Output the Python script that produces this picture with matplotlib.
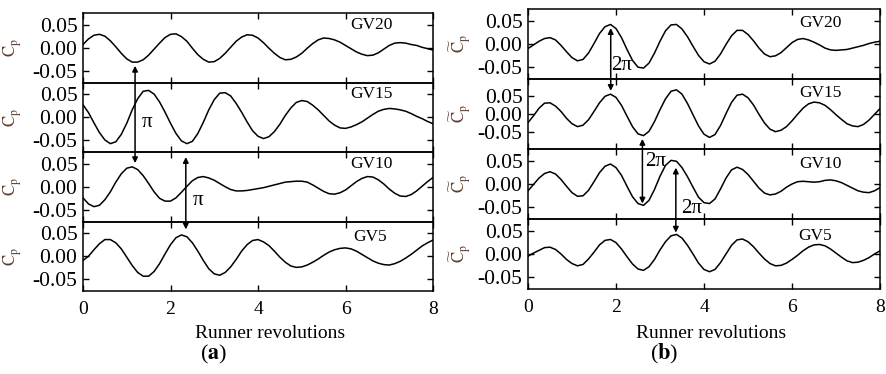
import numpy as np
import matplotlib
matplotlib.use('Agg')
import matplotlib.pyplot as plt
from matplotlib.patches import ConnectionPatch

plt.rcParams['font.family'] = ['Liberation Serif', 'DejaVu Serif']
plt.rcParams['mathtext.fontset'] = 'stix'
plt.rcParams['axes.unicode_minus'] = False

# runner revolutions, sampled every 1/8 revolution
revs = np.linspace(0, 8, 65)

# panel (a): pressure coefficient fluctuation at each guide-vane probe
cp_a_gv20 = [0.007, 0.019, 0.027, 0.029, 0.025, 0.015, 0.002, -0.012, -0.024, -0.031, -0.031, -0.026, -0.016,
             -0.003, 0.010, 0.022, 0.029, 0.030, 0.024, 0.014, -0.001, -0.015, -0.025, -0.031, -0.030, -0.023,
             -0.012, 0.001, 0.014, 0.023, 0.028, 0.027, 0.021, 0.011, -0.001, -0.012, -0.021, -0.026, -0.025,
             -0.020, -0.012, -0.001, 0.009, 0.017, 0.021, 0.020, 0.017, 0.012, 0.005, -0.002, -0.009, -0.014,
             -0.017, -0.016, -0.011, -0.003, 0.005, 0.010, 0.011, 0.010, 0.007, 0.005, 0.001, -0.002, -0.005]
cp_a_gv15 = [0.027, 0.010, -0.012, -0.033, -0.049, -0.057, -0.053, -0.037, -0.013, 0.016, 0.040, 0.056, 0.058,
             0.050, 0.033, 0.011, -0.013, -0.035, -0.051, -0.057, -0.052, -0.035, -0.011, 0.016, 0.038, 0.052,
             0.053, 0.046, 0.030, 0.011, -0.010, -0.029, -0.041, -0.046, -0.042, -0.031, -0.015, 0.004, 0.020,
             0.032, 0.036, 0.034, 0.026, 0.016, 0.004, -0.008, -0.017, -0.023, -0.024, -0.021, -0.016, -0.010,
             -0.002, 0.006, 0.013, 0.017, 0.019, 0.018, 0.016, 0.013, 0.008, 0.002, -0.003, -0.009, -0.014]
cp_a_gv10 = [-0.024, -0.037, -0.043, -0.040, -0.028, -0.011, 0.010, 0.028, 0.040, 0.043, 0.037, 0.024, 0.007,
             -0.011, -0.025, -0.031, -0.031, -0.024, -0.012, 0.001, 0.013, 0.020, 0.022, 0.019, 0.014, 0.007,
             0.000, -0.006, -0.009, -0.009, -0.008, -0.006, -0.004, -0.002, 0.001, 0.004, 0.007, 0.010, 0.011,
             0.012, 0.012, 0.010, 0.004, -0.003, -0.010, -0.015, -0.016, -0.013, -0.007, 0.002, 0.011, 0.018,
             0.022, 0.021, 0.015, 0.006, -0.005, -0.014, -0.020, -0.021, -0.017, -0.009, 0.001, 0.011, 0.020]
cp_a_gv5 = [-0.009, 0.000, 0.014, 0.027, 0.036, 0.036, 0.029, 0.016, -0.002, -0.020, -0.035, -0.043, -0.043,
            -0.033, -0.016, 0.005, 0.025, 0.040, 0.046, 0.042, 0.029, 0.011, -0.009, -0.027, -0.038, -0.041,
            -0.035, -0.023, -0.007, 0.011, 0.025, 0.034, 0.036, 0.031, 0.023, 0.011, -0.002, -0.013, -0.021,
            -0.024, -0.023, -0.019, -0.013, -0.006, 0.002, 0.009, 0.014, 0.017, 0.018, 0.016, 0.011, 0.004,
            -0.003, -0.010, -0.015, -0.018, -0.019, -0.016, -0.011, -0.004, 0.004, 0.013, 0.022, 0.029, 0.035]

# panel (b)
cp_b_gv20 = [-0.010, -0.002, 0.006, 0.012, 0.014, 0.009, -0.003, -0.017, -0.030, -0.037, -0.034, -0.020, 0.001,
             0.023, 0.038, 0.043, 0.034, 0.014, -0.012, -0.036, -0.051, -0.053, -0.042, -0.020, 0.006, 0.029,
             0.042, 0.043, 0.033, 0.016, -0.005, -0.025, -0.039, -0.044, -0.038, -0.022, -0.001, 0.018, 0.030,
             0.030, 0.021, 0.007, -0.009, -0.022, -0.028, -0.026, -0.019, -0.008, 0.003, 0.010, 0.012, 0.009,
             0.004, -0.002, -0.009, -0.013, -0.014, -0.013, -0.012, -0.009, -0.006, -0.003, 0.001, 0.004, 0.006]
cp_b_gv15 = [-0.024, -0.005, 0.016, 0.030, 0.031, 0.022, 0.007, -0.012, -0.027, -0.035, -0.031, -0.016, 0.007,
             0.031, 0.049, 0.055, 0.046, 0.024, -0.006, -0.035, -0.055, -0.060, -0.048, -0.021, 0.012, 0.042,
             0.063, 0.067, 0.055, 0.029, -0.002, -0.033, -0.056, -0.065, -0.057, -0.032, 0.001, 0.032, 0.052,
             0.055, 0.045, 0.025, -0.001, -0.025, -0.042, -0.049, -0.045, -0.035, -0.019, -0.001, 0.016, 0.028,
             0.033, 0.031, 0.024, 0.012, -0.002, -0.015, -0.027, -0.033, -0.035, -0.029, -0.017, -0.001, 0.015]
cp_b_gv10 = [-0.015, -0.001, 0.013, 0.023, 0.027, 0.022, 0.010, -0.005, -0.019, -0.027, -0.026, -0.014, 0.005,
             0.025, 0.039, 0.044, 0.036, 0.019, -0.005, -0.028, -0.043, -0.047, -0.036, -0.012, 0.017, 0.041,
             0.052, 0.050, 0.036, 0.016, -0.007, -0.029, -0.041, -0.043, -0.033, -0.011, 0.013, 0.031, 0.037,
             0.032, 0.021, 0.006, -0.009, -0.020, -0.024, -0.022, -0.016, -0.007, 0.000, 0.005, 0.006, 0.005,
             0.004, 0.005, 0.008, 0.009, 0.007, 0.003, -0.003, -0.009, -0.015, -0.018, -0.019, -0.015, -0.008]
cp_b_gv5 = [-0.005, 0.002, 0.008, 0.014, 0.015, 0.010, 0.000, -0.012, -0.021, -0.026, -0.023, -0.011, 0.004,
            0.020, 0.030, 0.032, 0.025, 0.011, -0.006, -0.022, -0.033, -0.036, -0.028, -0.012, 0.009, 0.027,
            0.040, 0.043, 0.035, 0.019, 0.000, -0.020, -0.034, -0.039, -0.034, -0.019, 0.000, 0.019, 0.031,
            0.033, 0.027, 0.016, 0.002, -0.011, -0.021, -0.026, -0.025, -0.020, -0.012, -0.003, 0.007, 0.015,
            0.020, 0.021, 0.018, 0.011, 0.002, -0.007, -0.015, -0.019, -0.018, -0.014, -0.008, 0.000, 0.007]

probe_names = ['GV20', 'GV15', 'GV10', 'GV5']
series_a = [cp_a_gv20, cp_a_gv15, cp_a_gv10, cp_a_gv5]
series_b = [cp_b_gv20, cp_b_gv15, cp_b_gv10, cp_b_gv5]
ylims_a = [0.075, 0.075, 0.075, 0.075]
ylims_b = [0.077, 0.097, 0.077, 0.077]
ytick_vals = [0.05, 0.0, -0.05]
ytick_labels = ['0.05', '0.00', '-0.05']
xtick_vals = [0, 2, 4, 6, 8]

# probe label positions (revolution, Cp) inside each strip
label_pos_a = [(6.6, 0.050), (6.6, 0.050), (6.6, 0.050), (6.55, 0.041)]
label_pos_b = [(6.64, 0.046), (6.64, 0.058), (6.64, 0.045), (6.52, 0.040)]

# phase-shift arrows: (revolution, upper strip, Cp at upper tip, lower strip, Cp at lower tip)
arrows_a = [(1.19, 0, -0.039, 2, 0.051), (2.35, 2, 0.064, 3, 0.058)]
arrows_b = [(1.88, 0, 0.035, 1, 0.064), (2.60, 1, -0.069, 2, -0.043), (3.36, 2, 0.036, 3, 0.047)]
# phase labels: (strip, revolution, Cp, text)
phase_a = [(1, 1.46, -0.011, 'π'), (2, 2.63, -0.029, 'π')]
phase_b = [(0, 2.13, -0.048, '2π'), (2, 2.89, 0.050, '2π'), (2, 3.72, -0.053, '2π')]

W, H = 886, 374
fig = plt.figure(figsize=(W / 100, H / 100), dpi=100)


def make_panel(left, right, top, bottom, series, ylims, label_pos, arrows, phases,
               tag, tag_x, xlabel_x, ylabel_x):
    strip_h = (bottom - top) / 4
    axes = []
    for i, (vals, name) in enumerate(zip(series, probe_names)):
        y0 = top + i * strip_h
        ax = fig.add_axes([left / W, 1 - (y0 + strip_h) / H, (right - left) / W, strip_h / H])
        ax.plot(revs, vals, color='black', lw=1.1)
        ax.set_xlim(0, 8)
        ax.set_ylim(-ylims[i], ylims[i])
        ax.set_yticks(ytick_vals)
        ax.set_yticklabels(ytick_labels)
        ax.set_xticks(xtick_vals)
        ax.tick_params(direction='in', top=True, right=True, length=4, width=1)
        ax.tick_params(axis='y', labelsize=15.5, pad=4)
        ax.tick_params(axis='x', labelsize=14, pad=7)
        if i < 3:
            ax.tick_params(labelbottom=False)
        for sp in ax.spines.values():
            sp.set_linewidth(1.1)
        ax.set_ylabel(r'$\widetilde{\mathrm{C}}_{\mathrm{p}}$', fontsize=12, color='#5a3d2b')
        ax.yaxis.set_label_coords((ylabel_x - left) / (right - left), 0.5)
        ax.text(label_pos[i][0], label_pos[i][1], name, fontsize=12.5, ha='center', va='center')
        ax.patch.set_alpha(0)
        axes.append(ax)

    for x, ia, ya, ib, yb in arrows:
        con = ConnectionPatch(xyA=(x, ya), coordsA=axes[ia].transData,
                              xyB=(x, yb), coordsB=axes[ib].transData,
                              arrowstyle='<|-|>', mutation_scale=8, color='black', lw=1.1)
        fig.add_artist(con)
    for i, x, y, s in phases:
        axes[i].text(x, y, s, fontsize=15, ha='center', va='center')

    fig.text(xlabel_x / W, 1 - 333 / H, 'Runner revolutions', fontsize=14, ha='center', va='center')
    fig.text(tag_x / W, 1 - 354 / H, '(' + r'$\mathbf{' + tag + '}$' + ')', fontsize=16,
             ha='center', va='center')
    return axes


make_panel(83, 433, 13, 291, series_a, ylims_a, label_pos_a, arrows_a, phase_a, 'a', 214, 270, 24)
make_panel(528, 880, 9, 289, series_b, ylims_b, label_pos_b, arrows_b, phase_b, 'b', 664, 711, 473)

fig.savefig('out.png', dpi=100, facecolor='white')
